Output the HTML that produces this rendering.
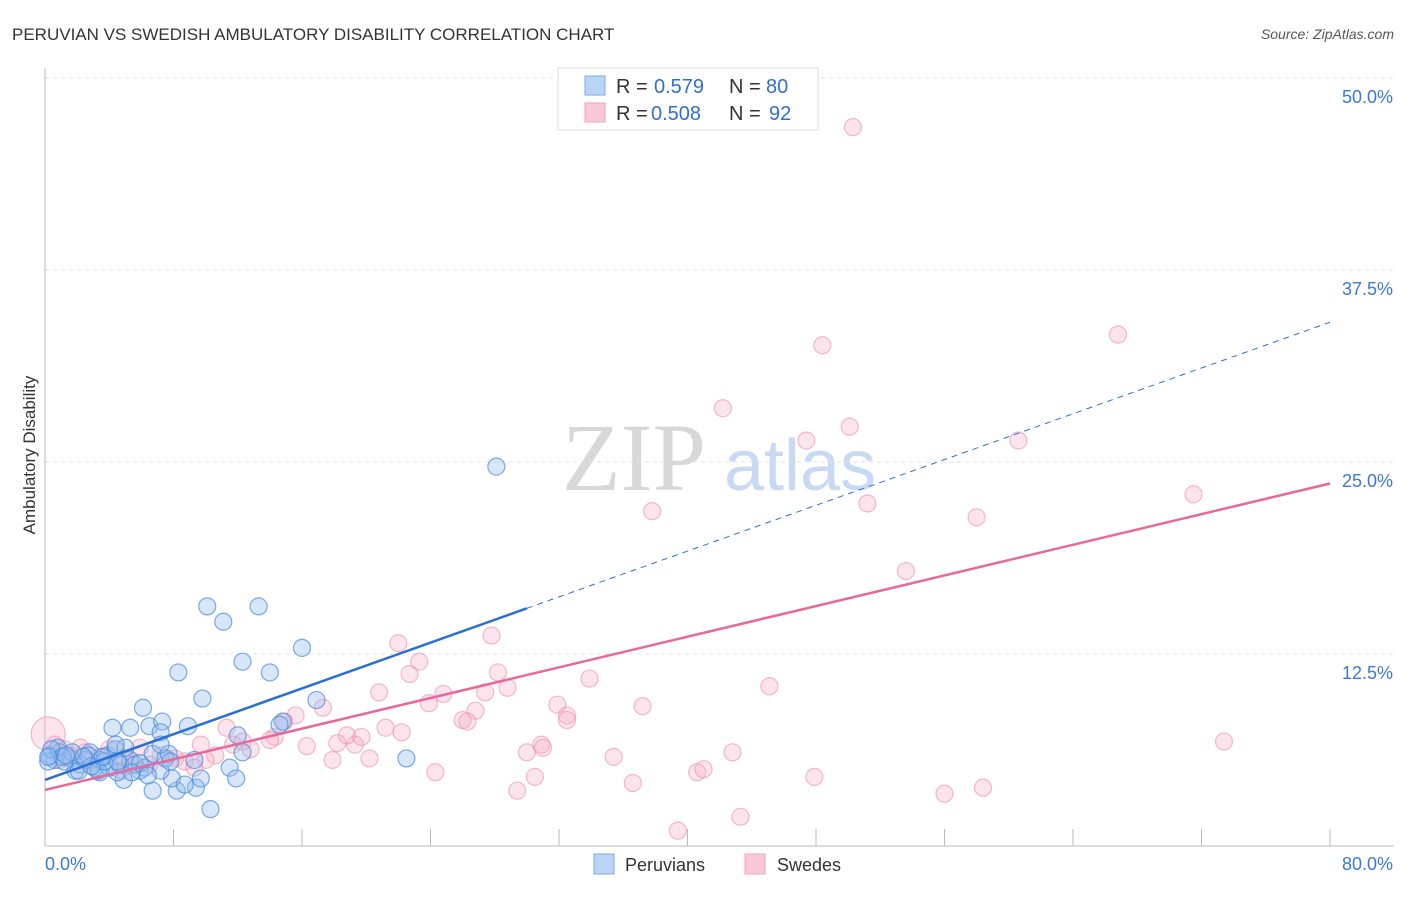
<!DOCTYPE html>
<html><head><meta charset="utf-8"><style>
body{margin:0;background:#fff;font-family:"Liberation Sans",sans-serif}
</style></head><body>
<svg width="1406" height="892" xmlns="http://www.w3.org/2000/svg" id="svg">
<text x="12" y="40" font-size="17" fill="#333">PERUVIAN VS SWEDISH AMBULATORY DISABILITY CORRELATION CHART</text>
<text x="1394" y="39" font-size="14" fill="#555" font-style="italic" text-anchor="end">Source: ZipAtlas.com</text>
<text x="634" y="490" font-size="96" fill="#d8d8d8" font-family="Liberation Serif" text-anchor="middle">ZIP</text>
<text x="800" y="490" font-size="72" fill="#c8daf3" text-anchor="middle">atlas</text>
<g id="grid"></g>
<g id="axes"></g>
<g id="pts"></g>
<g id="lines"></g>
<text x="35" y="455" font-size="17" fill="#333" text-anchor="middle" transform="rotate(-90 35 455)">Ambulatory Disability</text>
<g>
<rect x="558" y="68" width="260" height="62" fill="#fff" stroke="#ddd"/>
<rect x="585" y="76" width="20" height="19" fill="#b8d4f6" stroke="#7aaae6"/>
<rect x="585" y="103" width="20" height="19" fill="#f9c9d8" stroke="#f0a0bc"/>
<text x="616" y="93" font-size="20" fill="#333">R =</text>
<text x="654" y="93" font-size="20" fill="#2f6fd0">0.579</text>
<text x="729" y="93" font-size="20" fill="#333">N =</text>
<text x="766" y="93" font-size="20" fill="#2f6fd0">80</text>
<text x="616" y="120" font-size="20" fill="#333">R =</text>
<text x="651" y="120" font-size="20" fill="#2f6fd0">0.508</text>
<text x="729" y="120" font-size="20" fill="#333">N =</text>
<text x="769" y="120" font-size="20" fill="#2f6fd0">92</text>
</g>
<g>
<rect x="594" y="854" width="20" height="20" fill="#b8d4f6" stroke="#7aaae6"/>
<text x="625" y="871" font-size="18" fill="#333">Peruvians</text>
<rect x="745" y="854" width="20" height="20" fill="#f9c9d8" stroke="#f0a0bc"/>
<text x="777" y="871" font-size="18" fill="#333">Swedes</text>
</g>
</svg>
<script>
const yTicks=[12.5,25,37.5,50];
const yTickLabels=["12.5%","25.0%","37.5%","50.0%"];
const xTicks=[0,8,16,24,32,40,48,56,64,72,80];
const xEndLabels=["0.0%","80.0%"];
const peruX=[10.1,13.3,11.1,8.3,12.3,14.0,16.0,9.8,16.9,6.1,4.2,5.3,6.5,7.3,8.9,7.2,14.8,12.0,12.3,11.5,11.9,10.3,28.1,22.5,6.7,8.2,9.4,9.7,7.9,6.7,7.7,7.2,4.9,5.9,4.5,3.4,1.9,5.3,3.9,2.8,0.9,0.3,0.6,1.6,2.2,3.1,4.0,4.7,5.6,6.2,1.2,2.5,3.4,4.4,5.0,5.9,0.8,0.2,2.7,1.7,3.3,3.7,5.4,6.4,7.5,8.7,4.4,7.8,0.4,1.1,2.1,2.9,4.5,7.2,9.3,14.6,0.2,1.3,2.4,3.6];
const peruY=[15.6,15.6,14.6,11.3,12.0,11.3,12.9,9.6,9.5,9.0,7.7,7.7,7.8,8.1,7.8,7.4,8.1,7.2,6.1,5.1,4.4,2.4,24.7,5.7,3.6,3.6,3.8,4.4,4.4,6.0,6.0,4.9,4.3,4.9,4.8,4.8,4.9,5.6,5.9,6.1,6.1,5.9,5.6,5.7,5.3,5.1,5.1,5.3,5.3,5.1,5.5,5.6,5.6,6.3,6.4,5.4,6.4,5.5,5.9,6.1,4.9,5.5,4.8,4.6,5.7,4.0,6.6,5.5,6.3,5.8,4.9,5.2,5.5,6.6,5.6,7.9,5.8,5.9,5.8,5.8];
const sweX=[50.3,66.8,48.4,42.2,47.4,50.1,60.6,71.5,51.2,58.0,37.8,53.6,22.0,27.8,23.3,22.7,28.2,33.9,20.8,24.8,27.4,28.8,23.9,26.8,45.1,37.2,31.9,32.5,26.0,26.3,17.3,15.6,14.9,11.3,12.3,14.3,14.0,16.3,18.2,19.3,18.8,19.7,21.2,22.2,30.0,30.9,31.0,32.5,35.4,42.8,73.4,17.9,20.2,24.3,30.5,29.4,36.6,40.6,41.0,47.9,56.0,58.4,43.3,39.4,11.7,10.6,10.0,8.7,8.1,7.2,5.9,5.0,3.4,2.2,1.2,0.6,0.9,2.8,4.0,6.5,9.3,9.7,12.8,4.7,2.5,1.6,5.3,0.2];
const sweY=[46.8,33.3,32.6,28.5,26.4,27.3,26.4,22.9,22.3,21.4,21.8,17.9,13.2,13.7,12.0,11.2,11.3,10.9,10.0,9.9,10.0,10.3,9.3,8.8,10.4,9.1,9.2,8.5,8.2,8.1,9.0,8.5,8.1,7.7,6.8,7.1,6.9,6.5,6.7,6.6,7.2,7.1,7.7,7.4,6.1,6.6,6.4,8.2,5.8,6.1,6.8,5.6,5.7,4.8,4.5,3.6,4.1,4.8,5.0,4.5,3.4,3.8,1.9,1.0,6.6,5.9,5.6,5.5,5.7,5.9,6.4,5.7,5.8,6.4,6.3,6.6,5.6,5.5,6.3,5.3,5.1,6.6,6.3,4.9,6.1,5.9,5.3,7.3];
const sweR=sweX.map((v,i)=>i===sweX.length-1?17:8.5);
const peruLine=[4.3,34.1]; const peruSolidEnd=30;
const sweLine=[3.65,23.6];
const ns="http://www.w3.org/2000/svg";
const X=v=>45+v/80*1285, Y=v=>846-v*15.36;
function mk(tag,attrs,parent){const e=document.createElementNS(ns,tag);for(const k in attrs)e.setAttribute(k,attrs[k]);document.getElementById(parent).appendChild(e);return e;}
yTicks.forEach((t,i)=>{
 const l=mk('line',{x1:45,x2:1394,y1:Y(t),y2:Y(t),stroke:'#e2e2e2','stroke-dasharray':'4,4'},'grid');
 
 
 const tx=mk('text',{x:1393,y:Y(t)+25,'font-size':18,fill:'#3b78d8','text-anchor':'end'},'grid');
 tx.textContent=yTickLabels[i];
 
 
});
const ax=mk('line',{x1:45,x2:45,y1:68,y2:846,stroke:'#bbb'},'axes');


const bx=mk('line',{x1:45,x2:1394,y1:846,y2:846,stroke:'#bbb'},'axes');


xTicks.forEach(t=>{const l=mk('line',{x1:X(t),x2:X(t),y1:829,y2:846,stroke:'#bbb'},'axes');
 
 });
[[0,'start',45],[80,'end',1393]].forEach((d,i)=>{const t=mk('text',{x:d[2],y:870,'font-size':18,fill:'#3b78d8','text-anchor':d[1]},'axes');t.textContent=xEndLabels[i];
 
 });
sweX.forEach((v,i)=>{const c=mk('circle',{cx:X(v),cy:Y(sweY[i]),r:sweR[i],fill:'rgba(246,172,198,0.33)',stroke:'rgba(238,140,175,0.6)','stroke-width':1.2},'pts');
 
 });
peruX.forEach((v,i)=>{const c=mk('circle',{cx:X(v),cy:Y(peruY[i]),r:8.5,fill:'rgba(150,190,240,0.38)',stroke:'rgba(70,135,220,0.7)','stroke-width':1.2},'pts');
 
 });
const py=x=>peruLine[0]+(peruLine[1]-peruLine[0])*x/80;
let l1=mk('line',{x1:X(0),y1:Y(py(0)),x2:X(peruSolidEnd),y2:Y(py(peruSolidEnd)),stroke:'#2a6fd6','stroke-width':2.5},'lines');


let l2=mk('line',{x1:X(peruSolidEnd),y1:Y(py(peruSolidEnd)),x2:X(80),y2:Y(py(80)),stroke:'#2a6fd6','stroke-width':1,'stroke-dasharray':'6,5'},'lines');


let l3=mk('line',{x1:X(0),y1:Y(sweLine[0]),x2:X(80),y2:Y(sweLine[1]),stroke:'#e8689a','stroke-width':2.5},'lines');


</script>
</body></html>
